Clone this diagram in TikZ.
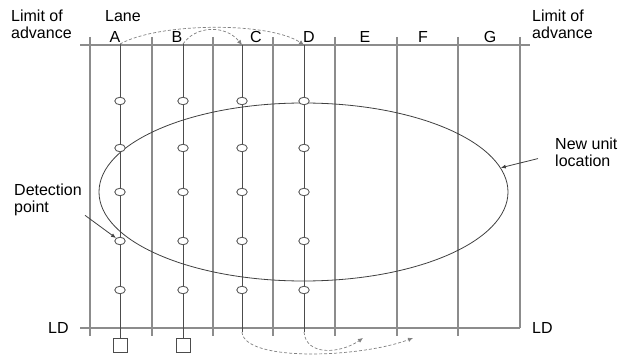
\documentclass[tikz,border=0pt]{standalone}
\usepackage{fontspec}
\setmainfont{Liberation Sans}
\usetikzlibrary{shapes.geometric,arrows.meta}
\newcommand{\rail}[2]{\draw[rail] (#1,37) -- (#1,#2)}
\newcommand{\lanelab}[2]{\node[lanelab] (lab#2) at (#1,43) {#2}}
\tikzset{
	rail/.style={gray!90, line width=1.1pt},
	limit/.style={gray!90, line width=1.6pt},
	lane/.style={black!70, line width=0.8pt},
	detpt/.style={ellipse, draw=black!70, fill=white, line width=0.8pt,
		minimum width=10.5pt, minimum height=7.5pt, inner sep=0pt},
	box/.style={draw=black!70, line width=1pt, minimum size=14pt, inner sep=0pt},
	lanelab/.style={anchor=base, inner sep=0pt, font=\fontsize{16}{17}\selectfont},
	txt/.style={align=left, anchor=north west, inner sep=0pt, font=\fontsize{16}{17}\selectfont},
	move/.style={densely dashed, gray, line width=0.7pt, -{Latex[length=5pt,width=4.5pt]}},
	pointer/.style={black!75, line width=0.8pt, -{Latex[length=5pt,width=4pt]}}
}

\begin{document}
\begin{tikzpicture}[x=1pt,y=-1pt]
	\useasboundingbox (0,0) rectangle (626,358);
	% rails between the lanes
	\rail{90}{336};
	\rail{152}{336};
	\rail{213}{336};
	\rail{273}{336};
	\rail{335}{336};
	\rail{397}{336};
	\rail{458}{336};
	\rail{520}{328};
	\draw[limit] (80,45) -- (530,45);
	\draw[limit] (80,328) -- (520,328);
	% lanes
	\coordinate (topA) at (120,44);
	\coordinate (topB) at (183,44);
	\coordinate (topC) at (242,45);
	\coordinate (topD) at (304,45);
	\coordinate (botC) at (242,332);
	\coordinate (botD) at (304,332);
	\coordinate (endC) at (413,338);
	\coordinate (endD) at (363,338);
	\node[box] (boxA) at (120,345) {};
	\node[box] (boxB) at (183,345) {};
	\draw[lane] (topA) -- (boxA);
	\draw[lane] (topB) -- (boxB);
	\draw[lane] (topC) -- (botC);
	\draw[lane] (topD) -- (botD);
	\node[draw=black!75, line width=0.8pt, ellipse, minimum width=409pt,
		minimum height=178pt, inner sep=0pt] (unit) at (303.5,192) {};
	\foreach \l/\x in {A/120,B/183,C/242,D/304}
		\foreach \r/\y in {1/101,2/148,3/192,4/241,5/290}
			\node[detpt] (det\l\r) at (\x,\y) {};
	% moves of the lanes
	\draw[move] (topA) .. controls (160,22) and (270,22) .. (topD);
	\draw[move] (topB) .. controls (195,26) and (225,24) .. (topC);
	\draw[move] (botC) .. controls (244,362) and (360,358) .. (endC);
	\draw[move] (botD) .. controls (306,356) and (340,354) .. (endD);
	% labels
	\lanelab{115}{A};
	\lanelab{177}{B};
	\lanelab{256}{C};
	\lanelab{309}{D};
	\lanelab{365}{E};
	\lanelab{423}{F};
	\lanelab{490}{G};
	\node[txt] (lane) at (105,10) {Lane};
	\node[txt] (limL) at (11,10) {Limit of\\advance};
	\node[txt] (limR) at (532,10) {Limit of\\advance};
	\node[txt, anchor=west] (ldL) at (48,328) {LD};
	\node[txt, anchor=west] (ldR) at (532,328) {LD};
	\node[txt] (detlab) at (14,184) {Detection\\point};
	\node[txt] (unitlab) at (555,138) {New unit\\location};
	\draw[pointer] (detlab.south west) ++(71,-1) coordinate (detfrom) -- (detA4.north west);
	\draw[pointer] (unitlab.west) ++(-17,6) coordinate (unitfrom) -- (unit.7);
\end{tikzpicture}
\end{document}
